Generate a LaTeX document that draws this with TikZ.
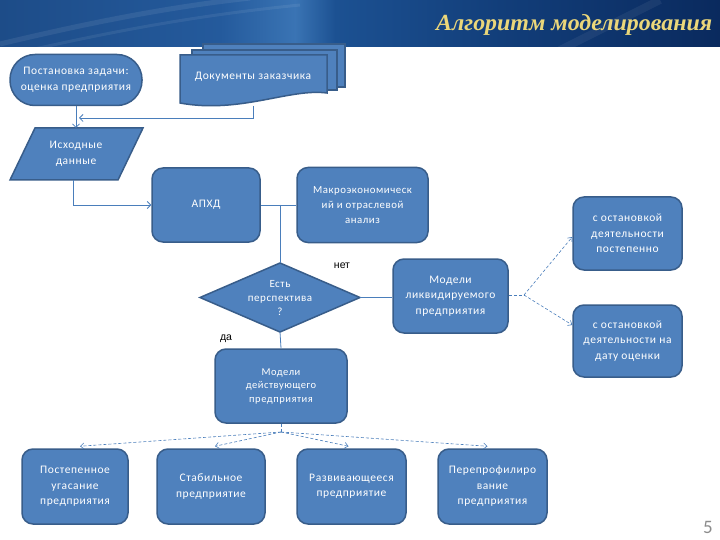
\documentclass[tikz,border=0pt]{standalone}
\usepackage{fontspec}
\usetikzlibrary{arrows.meta}
\newfontfamily\boxfont[LetterSpace=5]{Carlito}
\newfontfamily\lblfont{Liberation Sans}
\newfontfamily\titlefont{Liberation Serif}
\newfontfamily\numfont{Carlito}
\definecolor{boxfill}{HTML}{4F81BD}
\definecolor{boxline}{HTML}{385D8A}
\definecolor{connc}{HTML}{4A7EBB}
\definecolor{titlecol}{HTML}{EBD77A}
\definecolor{hdA}{HTML}{1D4C88}
\definecolor{hdB}{HTML}{245A9C}
\definecolor{hdC}{HTML}{3A74B4}
\definecolor{hdD}{HTML}{1C5192}
\definecolor{hdE}{HTML}{123E7A}
\definecolor{hdF}{HTML}{0A2A5E}
\tikzset{
  shapefill/.style={draw=boxline, fill=boxfill, line width=1.5pt},
  box/.style={shapefill, rounded corners=11pt, text=white, align=center,
    font=\boxfont\fontsize{11.5}{15.5}\selectfont, inner sep=2pt},
  btext/.style={text=white, align=center, font=\boxfont\fontsize{11.5}{15.5}\selectfont, inner sep=0pt},
  conn/.style={draw=connc, line width=0.8pt},
  arr/.style={conn, -{Straight Barb[length=3.5pt,width=7pt]}},
  dconn/.style={conn, line width=0.6pt, dash pattern=on 3pt off 2pt},
  darr/.style={dconn, -{Straight Barb[length=3.5pt,width=6pt]}},
  lbl/.style={font=\lblfont\fontsize{10.5}{11}\selectfont, text=black, inner sep=0pt}
}
\begin{document}
\begin{tikzpicture}[x=1pt,y=-1pt]
\useasboundingbox (0,0) rectangle (720,540);
\fill[white] (0,0) rectangle (720,540);
% header
\shade[left color=hdA, right color=hdB] (0,0) rectangle (220.5,47);
\shade[left color=hdB, right color=hdC] (220,0) rectangle (295.5,47);
\shade[left color=hdC, right color=hdD] (295,0) rectangle (335.5,47);
\shade[left color=hdD, right color=hdE] (335,0) rectangle (500.5,47);
\shade[left color=hdE, right color=hdF] (500,0) rectangle (720,47);
\begin{scope}
\clip (0,0) rectangle (720,47);
\draw[white, opacity=0.08, line width=5pt] (0,44) .. controls (80,25) and (160,8) .. (250,-2);
\draw[white, opacity=0.07, line width=3pt] (30,50) .. controls (120,30) and (200,15) .. (300,5);
\draw[white, opacity=0.06, line width=8pt] (560,50) .. controls (600,30) and (630,15) .. (660,0);
\end{scope}
\node[anchor=base west, inner sep=0pt, text=titlecol] (title) at (436,31)
  {\resizebox{276pt}{16pt}{\titlefont\bfseries\itshape Алгоритм моделирования}};

% terminator
\node[box, rounded corners=25pt, minimum width=132pt, minimum height=51pt] (task) at (76,80)
  {Постановка задачи:\\оценка предприятия};

% documents
\filldraw[shapefill] (203,44) rectangle (345,87);
\filldraw[shapefill] (192,50) rectangle (337,90);
\filldraw[shapefill] (180,55) -- (327,55) -- (327,93) .. controls (290,88) and (240,114) .. (180,103) -- cycle;
\node[btext] (docs) at (253,77) {Документы заказчика};
\coordinate (docsb) at (253,106);

% input data parallelogram
\filldraw[shapefill] (35,128) -- (143,128) -- (118,180) -- (10,180) -- cycle;
\node[btext] (data) at (76,154) {Исходные\\данные};
\coordinate (dataN) at (76,128);
\coordinate (dataS) at (73,180);
\coordinate (joinL) at (79,118);

% main boxes
\node[box, minimum width=108pt, minimum height=74pt] (apxd) at (206,205) {АПХД};
\node[box, minimum width=131pt, minimum height=75pt, font=\boxfont\fontsize{10.8}{15}\selectfont] (macro) at (362.5,205)
  {Макроэкономическ\\ий и отраслевой\\анализ};
\filldraw[shapefill] (200,297.5) -- (280,263) -- (360,297.5) -- (280,332) -- cycle;
\coordinate (qN) at (280,263);
\coordinate (qS) at (280,332);
\coordinate (qE) at (360,297.5);
\node[btext, font=\boxfont\fontsize{11}{14}\selectfont] (q) at (280,298) {Есть\\перспектива\\?};
\node[box, minimum width=115pt, minimum height=74pt] (liq) at (450.5,296)
  {Модели\\ликвидируемого\\предприятия};
\node[box, minimum width=132pt, minimum height=74pt, font=\boxfont\fontsize{10.5}{13.5}\selectfont] (oper) at (281,386)
  {Модели\\действующего\\предприятия};
\node[box, minimum width=109pt, minimum height=73pt] (r1) at (627.5,233.5)
  {с остановкой\\деятельности\\постепенно};
\node[box, minimum width=109pt, minimum height=72pt] (r2) at (627.5,341)
  {с остановкой\\деятельности на\\дату оценки};
\node[box, minimum width=106pt, minimum height=75pt] (b1) at (75,486.5)
  {Постепенное\\угасание\\предприятия};
\node[box, minimum width=108pt, minimum height=75pt] (b2) at (211,486.5)
  {Стабильное\\предприятие};
\node[box, minimum width=109pt, minimum height=75pt] (b3) at (351.5,486.5)
  {Развивающееся\\предприятие};
\node[box, minimum width=109pt, minimum height=75pt] (b4) at (492.5,486.5)
  {Перепрофилиро\\вание\\предприятия};

% labels
\node[lbl] (no) at (342,266) {нет};
\node[lbl] (yes) at (226,339) {да};
\node[font=\numfont\fontsize{19}{20}\selectfont, text=black!45, inner sep=0pt] (pg) at (708,527) {5};

% solid connectors
\draw[arr] (task.south) -- (dataN);
\draw[arr] (docsb) -- (253,118) -- (joinL);
\draw[arr] (dataS) |- (apxd.west);
\draw[conn] (apxd.east) -- (macro.west);
\draw[conn] (280,205) -- (qN);
\draw[conn] (qE) -- (qE -| liq.west);
\draw[conn] (qS) -- (oper.north);

% dashed connectors
\coordinate (lb) at (524,295);
\draw[dconn] (liq.east |- lb) -- (lb);
\draw[darr] (lb) -- ([yshift=-3.5pt]r1.west);
\draw[darr] (lb) -- ([yshift=16pt]r2.west);
\coordinate (ob) at (281,432);
\draw[dconn] (oper.south) -- (ob);
\draw[darr] (ob) -- ([xshift=5pt,yshift=2pt]b1.north);
\draw[darr] (ob) -- ([xshift=4pt,yshift=2pt]b2.north);
\draw[darr] (ob) -- ([xshift=-3pt,yshift=2pt]b3.north);
\draw[darr] (ob) -- ([xshift=-5pt,yshift=2pt]b4.north);
\end{tikzpicture}
\end{document}
